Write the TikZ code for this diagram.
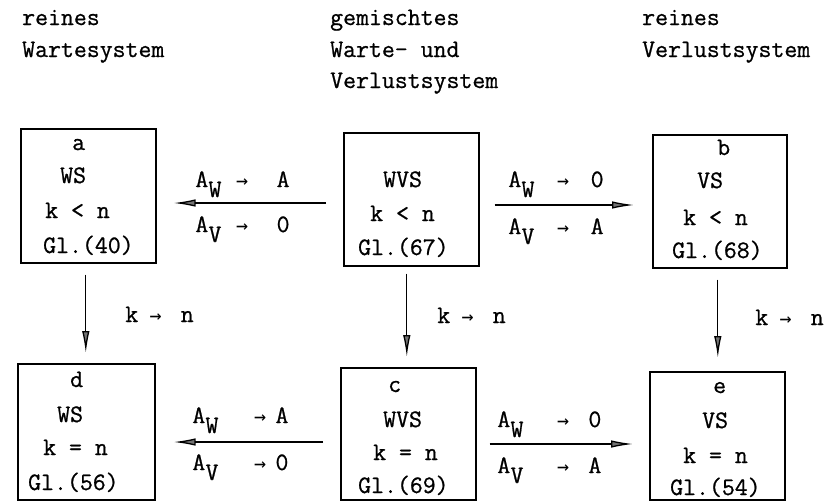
\documentclass[tikz,border=0pt]{standalone}
\usepackage{fontspec}
\newfontfamily\cour{Latin Modern Mono}[FakeBold=0.8]
\newfontfamily\arrfont{DejaVu Sans Mono}
\usetikzlibrary{arrows.meta}
\newlength\cw \setlength\cw{13.2pt}
\newcommand\cell[1]{\makebox[\cw]{#1}}
\newcommand\subl[1]{\raisebox{-10pt}{#1}}
\newcommand\sar{{\arrfont\fontsize{20}{20}\selectfont →}}
\newcommand\trans[5]{\cell{#1}\cell{\subl{#2}}\hspace{#3\cw}\cell{\sar}\hspace{#4\cw}\cell{#5}}
\newcommand\kn[2]{\cell{k}\hspace{#1\cw}\cell{\sar}\hspace{#2\cw}\cell{n}}
\begin{document}
\begin{tikzpicture}[x=1pt,y=-1pt,
  txt/.style={inner sep=0pt, anchor=base west, font=\cour\fontsize{25.1}{28}\selectfont},
  box/.style={draw, line width=1.6pt, inner sep=0pt, anchor=north west},
  arr/.style={line width=1.3pt, -{Latex[length=22pt,width=7.5pt,fill=black!55]}}]
\useasboundingbox (0,0) rectangle (827,501);

% headers
\node[txt] (h1) at (22,25) {reines};
\node[txt] (h2) at (22,57) {Wartesystem};
\node[txt] (h3) at (330,25) {gemischtes};
\node[txt] (h4) at (330,57) {Warte- und};
\node[txt] (h5) at (330,88) {Verlustsystem};
\node[txt] (h6) at (642,25) {reines};
\node[txt] (h7) at (642,57) {Verlustsystem};

% boxes
\node[box, minimum width=135pt, minimum height=134pt] (a) at (20,128) {};
\node[box, minimum width=135pt, minimum height=133pt] (w) at (343,132) {};
\node[box, minimum width=134pt, minimum height=133pt] (b) at (652,134) {};
\node[box, minimum width=137pt, minimum height=136pt] (d) at (17,363) {};
\node[box, minimum width=135pt, minimum height=132pt] (c) at (340,367) {};
\node[box, minimum width=135pt, minimum height=128pt] (e) at (649,371) {};

% box texts
\node[txt] (a1) at ([shift={(52,22)}]a.north west) {a};
\node[txt] (a2) at ([shift={(40,55)}]a.north west) {WS};
\node[txt] (a3) at ([shift={(25,90)}]a.north west) {k < n};
\node[txt] (a4) at ([shift={(23,125)}]a.north west) {Gl.(40)};

\node[txt] (w2) at ([shift={(40,55)}]w.north west) {WVS};
\node[txt] (w3) at ([shift={(27,89)}]w.north west) {k < n};
\node[txt] (w4) at ([shift={(15,123)}]w.north west) {Gl.(67)};

\node[txt] (b1) at ([shift={(65,21)}]b.north west) {b};
\node[txt] (b2) at ([shift={(45,54)}]b.north west) {VS};
\node[txt] (b3) at ([shift={(31,91)}]b.north west) {k < n};
\node[txt] (b4) at ([shift={(20,124)}]b.north west) {Gl.(68)};

\node[txt] (d1) at ([shift={(53,24)}]d.north west) {d};
\node[txt] (d2) at ([shift={(40,59)}]d.north west) {WS};
\node[txt] (d3) at ([shift={(26,92)}]d.north west) {k = n};
\node[txt] (d4) at ([shift={(11,127)}]d.north west) {Gl.(56)};

\node[txt] (c1) at ([shift={(48,25)}]c.north west) {c};
\node[txt] (c2) at ([shift={(43,60)}]c.north west) {WVS};
\node[txt] (c3) at ([shift={(33,93)}]c.north west) {k = n};
\node[txt] (c4) at ([shift={(18,126)}]c.north west) {Gl.(69)};

\node[txt] (e1) at ([shift={(64,22)}]e.north west) {e};
\node[txt] (e2) at ([shift={(53,57)}]e.north west) {VS};
\node[txt] (e3) at ([shift={(34,92)}]e.north west) {k = n};
\node[txt] (e4) at ([shift={(21,124)}]e.north west) {Gl.(54)};

% horizontal arrows
\draw[arr] ([shift={(-17,71)}]w.north west) -- ([shift={(17,75)}]a.north east);
\draw[arr] ([shift={(15,73)}]w.north east) -- ([shift={(-18,71)}]b.north west);
\draw[arr] ([shift={(-17,75)}]c.north west) -- ([shift={(18,79)}]d.north east);
\draw[arr] ([shift={(13,77)}]c.north east) -- ([shift={(-16,73)}]e.north west);

% vertical arrows
\draw[arr] ([shift={(-2.5,11)}]a.south) -- ([shift={(-0.5,-10)}]d.north);
\draw[arr] ([shift={(-4.5,7)}]w.south) -- ([shift={(-1.5,-10)}]c.north);
\draw[arr] ([shift={(-2,11)}]b.south) -- ([shift={(0.5,-13)}]e.north);

% transition labels
\node[txt] (t1) at (195,187) {\trans{A}{W}{1.06}{2.1}{A}};
\node[txt] (t2) at (195,232) {\trans{A}{V}{1.06}{2.1}{0}};
\node[txt] (t3) at (508,187) {\trans{A}{W}{1.67}{1.57}{0}};
\node[txt] (t4) at (508,234) {\trans{A}{V}{1.67}{1.57}{A}};
\node[txt] (t5) at (192,423) {\trans{A}{W}{2.65}{0.65}{A}};
\node[txt] (t6) at (192,470) {\trans{A}{V}{2.65}{0.65}{0}};
\node[txt] (t7) at (497,427) {\trans{A}{W}{2.5}{1.4}{0}};
\node[txt] (t8) at (497,473) {\trans{A}{V}{2.5}{1.4}{A}};

\node[txt] (k1) at (125,322) {\kn{0.8}{1.4}};
\node[txt] (k2) at (437,323) {\kn{0.8}{1.4}};
\node[txt] (k3) at (755,325) {\kn{0.8}{1.4}};
\end{tikzpicture}
\end{document}
